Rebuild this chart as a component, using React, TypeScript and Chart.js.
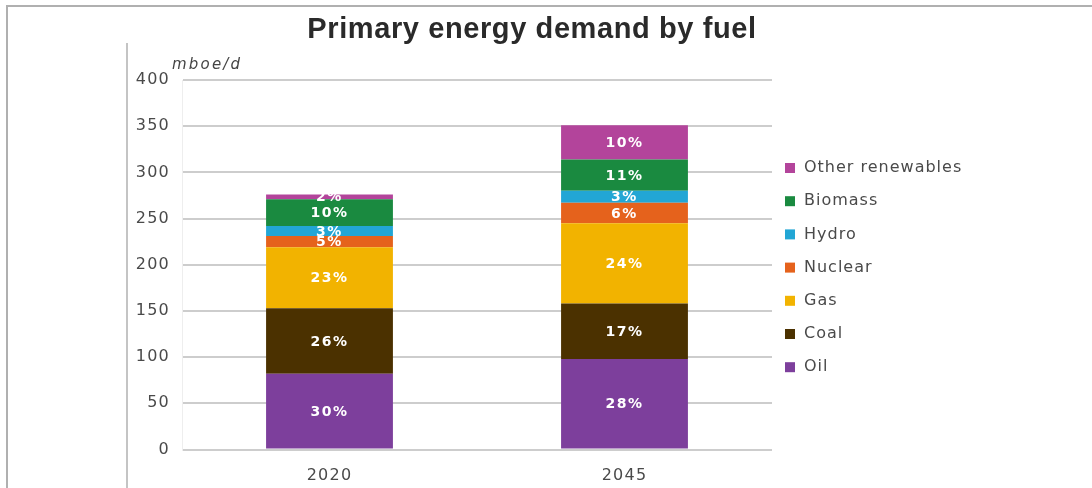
import { useEffect, useRef } from "react";
import { Chart, registerables } from "chart.js";

Chart.register(...registerables);

const categories = ["2020", "2045"];
const seriesNames = ["Oil", "Coal", "Gas", "Nuclear", "Hydro", "Biomass", "Other renewables"];
const oil = [82, 98];
const coal = [71, 60];
const gas = [66, 87];
const nuclear = [12, 22];
const hydro = [11, 13];
const biomass = [29, 34];
const otherRenewables = [5, 37];
const oilPct = ["30%", "28%"];
const coalPct = ["26%", "17%"];
const gasPct = ["23%", "24%"];
const nuclearPct = ["5%", "6%"];
const hydroPct = ["3%", "3%"];
const biomassPct = ["10%", "11%"];
const otherPct = ["2%", "10%"];
const yTicks = [0, 50, 100, 150, 200, 250, 300, 350, 400];
const colors = ["#7D3F9C", "#4B3100", "#F2B300", "#E5621C", "#22A6D5", "#1A8A40", "#B3449B"];

const title = "Primary energy demand by fuel";
const unitLabel = "mboe/d";

const W = 1092;
const H = 488;

export default function App() {
  const ref = useRef<HTMLCanvasElement | null>(null);

  useEffect(() => {
    const canvas = ref.current;
    if (!canvas) return;
    const values = [oil, coal, gas, nuclear, hydro, biomass, otherRenewables];
    const pcts = [oilPct, coalPct, gasPct, nuclearPct, hydroPct, biomassPct, otherPct];

    const spacingPlugin = {
      id: "spacing",
      beforeUpdate(chart: any) {
        chart.ctx.letterSpacing = "1.2px";
      },
      beforeDraw(chart: any) {
        chart.ctx.letterSpacing = "1.2px";
        const ctx = chart.ctx;
        ctx.save();
        ctx.fillStyle = "#ffffff";
        ctx.fillRect(0, 0, W, H);
        // frame
        ctx.strokeStyle = "#b0b0b0";
        ctx.lineWidth = 2;
        ctx.beginPath();
        ctx.moveTo(7, H);
        ctx.lineTo(7, 6);
        ctx.lineTo(W, 6);
        ctx.stroke();
        ctx.strokeStyle = "#c4c4c4";
        ctx.beginPath();
        ctx.moveTo(127, 43);
        ctx.lineTo(127, H);
        ctx.stroke();
        // title
        ctx.letterSpacing = "0.6px";
        ctx.fillStyle = "#2a2a2a";
        ctx.font = "bold 29px 'Liberation Sans', Arial, sans-serif";
        ctx.textAlign = "center";
        ctx.textBaseline = "middle";
        ctx.fillText(title, 532, 30);
        // unit
        ctx.letterSpacing = "2.2px";
        ctx.fillStyle = "#444444";
        ctx.font = "italic 15px 'DejaVu Sans', sans-serif";
        ctx.textAlign = "left";
        ctx.fillText(unitLabel, 172, 65);
        ctx.restore();
      },
    };

    const labelPlugin = {
      id: "segLabels",
      afterDatasetsDraw(chart: any) {
        const ctx = chart.ctx;
        ctx.save();
        ctx.letterSpacing = "1.5px";
        ctx.font = "bold 14px 'DejaVu Sans', sans-serif";
        ctx.fillStyle = "#ffffff";
        ctx.textAlign = "center";
        ctx.textBaseline = "middle";
        chart.data.datasets.forEach((ds: any, di: number) => {
          const meta = chart.getDatasetMeta(di);
          meta.data.forEach((el: any, i: number) => {
            const y = (el.y + el.base) / 2;
            ctx.fillText(pcts[di][i], el.x, y + 1);
          });
        });
        ctx.restore();
      },
    };

    const legendPlugin = {
      id: "customLegend",
      afterDraw(chart: any) {
        const ctx = chart.ctx;
        const area = chart.chartArea;
        ctx.save();
        ctx.letterSpacing = "1px";
        ctx.font = "16px 'DejaVu Sans', sans-serif";
        ctx.textAlign = "left";
        ctx.textBaseline = "middle";
        const n = chart.data.datasets.length;
        for (let k = 0; k < n; k++) {
          const di = n - 1 - k;
          const ds = chart.data.datasets[di];
          const y = 168 + k * 33.2;
          ctx.fillStyle = ds.backgroundColor;
          ctx.fillRect(area.right + 13, y - 5, 10, 10);
          ctx.fillStyle = "#4a4a4a";
          ctx.fillText(ds.label, area.right + 32, y);
        }
        ctx.restore();
      },
    };

    const chart = new Chart(canvas, {
      type: "bar",
      data: {
        labels: categories,
        datasets: values.map((v, i) => ({
          label: seriesNames[i],
          data: v,
          backgroundColor: colors[i],
          borderWidth: 0,
          barPercentage: 0.43,
          categoryPercentage: 1,
        })),
      },
      options: {
        responsive: false,
        animation: false,
        devicePixelRatio: 1,
        layout: { padding: { left: 110, right: 320, top: 80, bottom: 0 } },
        plugins: {
          legend: { display: false },
          title: { display: false },
          tooltip: { enabled: false },
        },
        scales: {
          x: {
            stacked: true,
            grid: { display: false, drawTicks: false },
            border: { display: false },
            ticks: {
              color: "#4a4a4a",
              font: { family: "'DejaVu Sans', sans-serif", size: 16 },
              padding: 17,
            },
            afterFit(scale: any) {
              scale.height = H - 449.5;
            },
          },
          y: {
            stacked: true,
            min: 0,
            max: 400,
            afterBuildTicks(scale: any) {
              scale.ticks = yTicks.map((v) => ({ value: v }));
            },
            grid: { color: "#cdcdcd", lineWidth: 2, drawTicks: false },
            border: { display: true, color: "#eeeeee", width: 1 },
            ticks: {
              color: "#4a4a4a",
              font: { family: "'DejaVu Sans', sans-serif", size: 16 },
              padding: 12,
            },
            afterFit(scale: any) {
              scale.width = 72;
            },
          },
        },
      },
      plugins: [spacingPlugin, labelPlugin, legendPlugin],
    });
    return () => chart.destroy();
  }, []);

  return (
    <div style={{ position: "absolute", left: 0, top: 0, width: W, height: H }}>
      <canvas ref={ref} width={W} height={H} style={{ display: "block", width: W, height: H }} />
    </div>
  );
}
